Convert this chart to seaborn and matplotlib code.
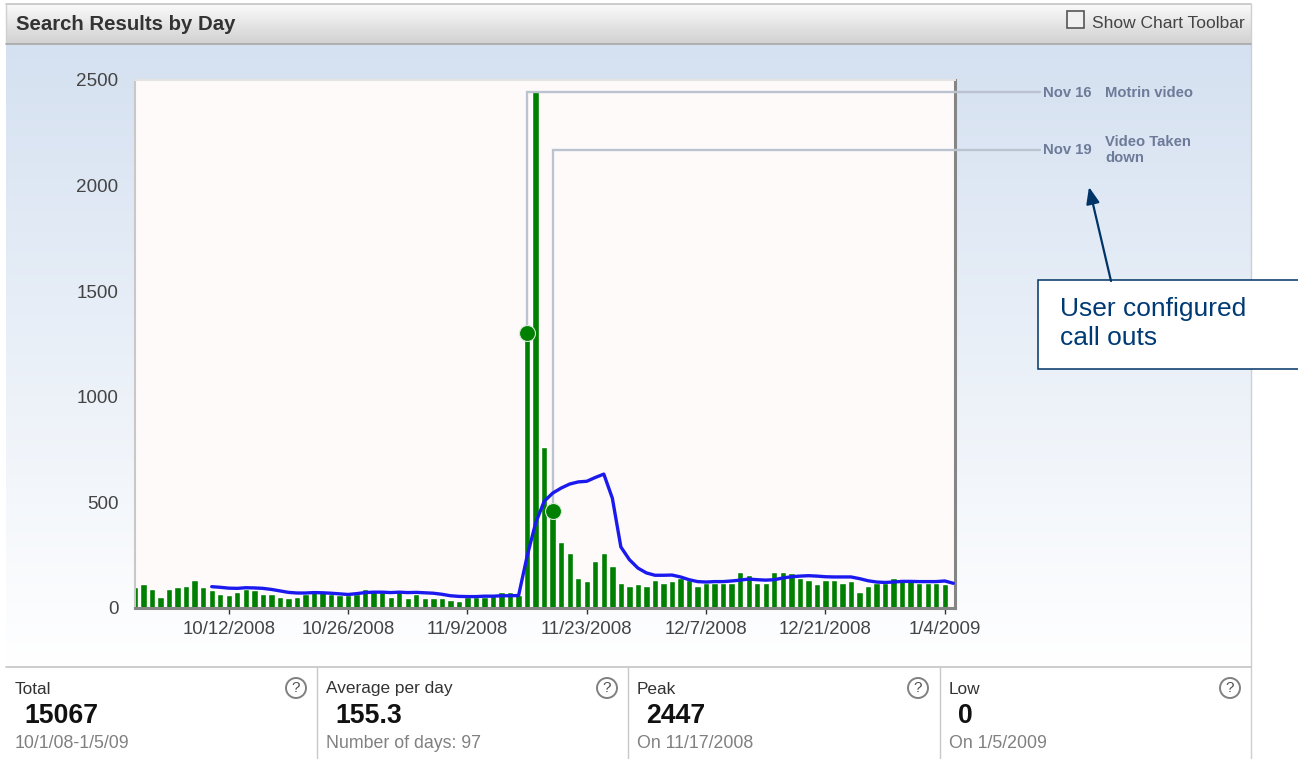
import numpy as np
import matplotlib
matplotlib.use('Agg')
import matplotlib.pyplot as plt
from matplotlib.patches import Rectangle, Circle
import seaborn as sns

# searches per day, 10/1/08 - 1/5/09
oct_values = [98, 112, 90, 54, 90, 98, 106, 134, 98, 84, 68, 60, 76, 90, 84, 68, 68, 54, 46, 54, 68, 76, 76, 68, 60, 60, 68, 90, 82, 76, 54]
nov_values = [82, 46, 68, 46, 46, 46, 38, 32, 52, 52, 52, 68, 76, 76, 60, 1300, 2447, 762, 450, 312, 259, 142, 126, 222, 259, 200, 118, 106, 112, 106]
dec_values = [134, 120, 126, 142, 134, 106, 120, 120, 120, 120, 170, 156, 120, 120, 170, 170, 164, 142, 134, 112, 134, 134, 120, 126, 76, 106, 120, 120, 142, 126, 126]
jan_values = [120, 120, 120, 112, 0]
daily_values = oct_values + nov_values + dec_values + jan_values

# blue trend, starts on 10/10
trend_oct = [101, 98, 94, 93, 96, 95, 93, 88, 81, 74, 71, 71, 73, 72, 70, 67, 64, 68, 73, 75, 75, 73]
trend_nov = [75, 73, 74, 72, 70, 65, 58, 55, 54, 54, 56, 56, 58, 58, 59, 245, 402, 505, 544, 568, 587, 597, 600, 618, 634, 520, 289, 229, 189, 166]
trend_dec = [155, 155, 156, 147, 134, 125, 123, 125, 125, 128, 132, 137, 134, 132, 134, 142, 148, 151, 153, 151, 148, 147, 147, 147, 139, 129, 123, 121, 123, 126, 126]
trend_jan = [125, 125, 125, 128, 117]
trend_values = trend_oct + trend_nov + trend_dec + trend_jan

tick_days = [11, 25, 39, 53, 67, 81, 95]
tick_labels = ['10/12/2008', '10/26/2008', '11/9/2008', '11/23/2008', '12/7/2008', '12/21/2008', '1/4/2009']
y_ticks = [0, 500, 1000, 1500, 2000, 2500]

# call outs: day, marker value, height of the leader, date, text
callout_days = [46, 49]
callout_marks = [1302, 459]
callout_heights = [2443, 2168]
callout_dates = ['Nov 16', 'Nov 19']
callout_texts = ['Motrin video', 'Video Taken\ndown']

stat_titles = ['Total', 'Average per day', 'Peak', 'Low']
stat_values = ['15067', '155.3', '2447', '0']
stat_notes = ['10/1/08-1/5/09', 'Number of days: 97', 'On 11/17/2008', 'On 1/5/2009']

W, H = 1298, 759
sns.set_style('white')
plt.rcParams['font.family'] = ['Liberation Sans', 'DejaVu Sans']

fig = plt.figure(figsize=(W / 100, H / 100), dpi=100, facecolor='white')


def pixel_axes(zorder):
    a = fig.add_axes([0, 0, 1, 1], zorder=zorder)
    a.set_xlim(0, W)
    a.set_ylim(H, 0)
    a.axis('off')
    a.patch.set_alpha(0)
    return a


bg = pixel_axes(0)
grad = np.linspace(0, 1, 256)[:, None]
top, bottom = np.array([0.835, 0.882, 0.945]), np.array([1.0, 1.0, 1.0])
bg.imshow(top + (bottom - top) * grad[..., None], extent=(6, 1251, 667, 44), aspect='auto', zorder=1)
head_a, head_b = np.array([0.98, 0.98, 0.98]), np.array([0.82, 0.82, 0.82])
bg.imshow(head_a + (head_b - head_a) * grad[..., None], extent=(6, 1251, 44, 4), aspect='auto', zorder=1)
bg.set_xlim(0, W)
bg.set_ylim(H, 0)
bg.plot([6, 1251], [4, 4], color='#c4c4c4', lw=1.2, zorder=2)
bg.plot([6, 6], [4, 44], color='#d0d0d0', lw=1, zorder=2)
bg.plot([1251, 1251], [4, H], color='#ccd0d6', lw=1, zorder=2)
bg.plot([6, 1251], [44, 44], color='#a8a8a8', lw=1.2, zorder=2)
bg.plot([6, 1251], [667, 667], color='#c4c4c4', lw=1.2, zorder=2)
for x in [317, 628, 940]:
    bg.plot([x, x], [667, H], color='#c8c8c8', lw=1, zorder=2)

bg.text(16, 24, 'Search Results by Day', fontsize=14.65, fontweight='bold', color='#333333', va='center', zorder=3)
bg.add_patch(Rectangle((1067, 11), 17, 17, fc='#f0f0f0', ec='#555555', lw=1.2, zorder=3))
bg.text(1092, 24, 'Show Chart Toolbar', fontsize=12.55, color='#444444', va='center', zorder=3)

# footer stats
for i, x in enumerate([15, 326, 637, 949]):
    bg.text(x, 689, stat_titles[i], fontsize=12.4, color='#333333', va='center', zorder=3)
    bg.text(x + 9, 716, stat_values[i], fontsize=19.2, fontweight='bold', color='#111111', va='center', zorder=3)
    bg.text(x, 743, stat_notes[i], fontsize=12.8, color='#808080', va='center', zorder=3)
    bg.add_patch(Circle((x + 281, 688), 10, fc='white', ec='#808080', lw=1.4, zorder=3))
    bg.text(x + 281, 688, '?', fontsize=11, color='#505050', ha='center', va='center', zorder=4)

# chart
ax = fig.add_axes([135 / W, 1 - 608 / H, 820 / W, 528 / H], zorder=1)
days = np.arange(len(daily_values))
trend_days = days[-len(trend_values):]
sns.barplot(x=days, y=daily_values, native_scale=True, color='#008000', saturation=1, width=0.75, ax=ax)
sns.lineplot(x=trend_days, y=trend_values, color='#1a1aee', lw=2.4, ax=ax, zorder=5)

for day, mark, height, date, text in zip(callout_days, callout_marks, callout_heights, callout_dates, callout_texts):
    ax.plot([day, day, 106.2], [mark, height, height], color='#bcc3d0', lw=1.7, clip_on=False, zorder=2, solid_joinstyle='miter')
    ax.plot([day], [mark], 'o', ms=11.5, mfc='#008000', mec='#d6e8d6', mew=0.8, clip_on=False, zorder=6)

ax.set_xlim(0, 96.2)
ax.set_ylim(0, 2500)
ax.set_xticks(tick_days)
ax.set_xticklabels(tick_labels, fontsize=13.4, color='#444444')
ax.set_yticks(y_ticks)
ax.set_yticklabels([str(v) for v in y_ticks], fontsize=13.6, color='#444444')
ax.tick_params(axis='x', length=4, width=1, color='#333333', pad=5, bottom=True)
ax.tick_params(axis='y', length=0, pad=12)
ax.set_xlabel('')
ax.set_ylabel('')
ax.set_facecolor('#fffafa')
ax.spines['left'].set(color='#c8c8c8', lw=1.5)
ax.spines['top'].set(color='#e4e4e4', lw=1.5)
ax.spines['right'].set(color='#858585', lw=2.2)
ax.spines['bottom'].set(color='#858585', lw=2.2)
for s in ax.spines.values():
    s.set_zorder(1)

# overlay: call out labels and the annotation box
over = pixel_axes(2)
for y, date in zip([93, 150], callout_dates):
    over.text(1043, y, date, fontsize=10.7, fontweight='bold', color='#6d7b99', va='center')
over.text(1105, 93, callout_texts[0], fontsize=10.7, fontweight='bold', color='#6d7b99', va='center')
over.text(1105, 150, callout_texts[1], fontsize=10.7, fontweight='bold', color='#6d7b99', va='center', linespacing=1.15)
over.add_patch(Rectangle((1038, 280), 262, 89, fc='white', ec='#003366', lw=1.1))
over.text(1060, 323.5, 'User configured\ncall outs', fontsize=19, color='#003a75', va='center', linespacing=1.25)
over.annotate('', xy=(1089, 187), xytext=(1111, 281),
              arrowprops=dict(arrowstyle='-|>,head_width=0.4,head_length=1.0', color='#003366', lw=1.6, shrinkA=0, shrinkB=0))

fig.savefig('out.png', dpi=100)
